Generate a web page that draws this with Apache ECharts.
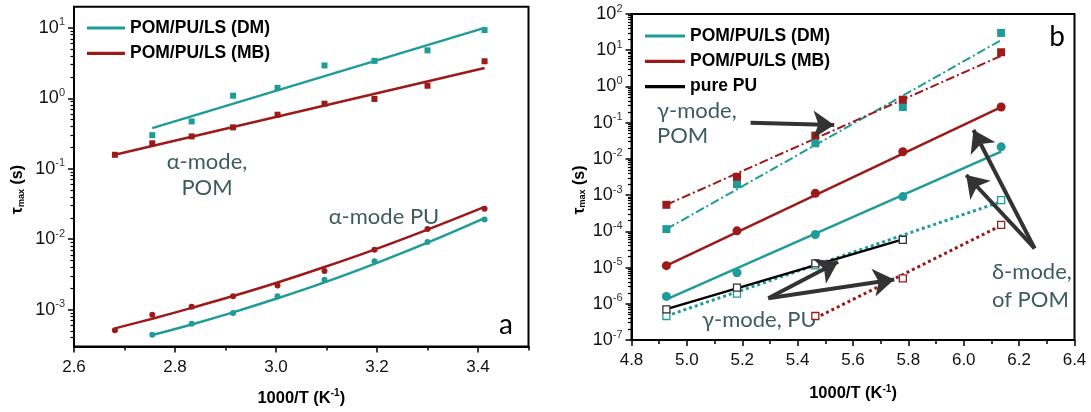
<!DOCTYPE html>
<html><head><meta charset="utf-8">
<script src="https://cdn.jsdelivr.net/npm/echarts@6/dist/echarts.min.js"></script>
<style>html,body{margin:0;padding:0;background:#fff}#c{width:1091px;height:412px}</style>
</head><body><div id="c"></div>
<script>
// ---------- Panel a data (x = 1000/T, y = tau_max in s) ----------
const xA = [2.681, 2.755, 2.833, 2.915, 3.003, 3.096, 3.195, 3.300, 3.413];
const aPOM_DM = [null, 0.30, 0.47, 1.09, 1.41, 2.93, 3.4, 4.8, 9.3];
const aPOM_MB = [0.158, 0.23, 0.288, 0.387, 0.586, 0.84, 0.98, 1.51, 3.36];
const aPOM_DM_fit = [null, 0.378, null, null, null, null, null, null, 10.0];
const aPOM_MB_fit = [0.158, null, null, null, null, null, null, null, 2.70];
const aPU_DM = [null, 4.4e-4, 6.3e-4, 9.0e-4, 1.55e-3, 2.65e-3, 4.85e-3, 9.1e-3, 1.9e-2];
const aPU_MB = [5.1e-4, 8.5e-4, 1.1e-3, 1.55e-3, 2.2e-3, 3.55e-3, 7.1e-3, 1.4e-2, 2.7e-2];
const aPU_DM_fit = [null, 4.37e-4, 6.17e-4, 9.16e-4, 1.45e-3, 2.44e-3, 4.48e-3, 8.95e-3, 2.0e-2];
const aPU_MB_fit = [5.43e-4, 7.45e-4, 1.06e-3, 1.56e-3, 2.43e-3, 4.03e-3, 7.13e-3, 1.37e-2, 2.88e-2];
const xTicksA = [2.6, 2.8, 3.0, 3.2, 3.4];
const xMinorA = [2.7, 2.9, 3.1, 3.3, 3.5];
const yRangeA = [3e-4, 20];

// ---------- Panel b data ----------
const xB = [4.926, 5.181, 5.464, 5.780, 6.135];
const gPOM_DM = [1.15e-4, 2.0e-3, 2.7e-2, 0.27, 30];
const gPOM_MB = [5.4e-4, 3.2e-3, 4.4e-2, 0.43, 8.8];
const gPOM_DM_fit = [1.15e-4, null, null, null, 19];
const gPOM_MB_fit = [5.4e-4, null, null, null, 7.0];
const dPOM_DM = [1.6e-6, 7.2e-6, 8.2e-5, 9.1e-4, 2.15e-2];
const dPOM_MB = [1.13e-5, 1.03e-4, 1.12e-3, 1.57e-2, 0.27];
const dPOM_DM_fit = [1.32e-6, null, null, null, 1.58e-2];
const dPOM_MB_fit = [1.13e-5, null, null, null, 0.27];
const gPU_DM = [4.6e-7, 1.9e-6, 1.15e-5, 6.0e-5, 7.3e-4];
const gPU_MB = [null, null, 4.6e-7, 5.0e-6, 1.5e-4];
const gPU_pure = [7.0e-7, 2.8e-6, 1.3e-5, 5.8e-5, null];
const gPU_DM_fit = [4.6e-7, null, null, null, 6.6e-4];
const gPU_MB_fit = [null, null, 4.0e-7, null, 1.45e-4];
const gPU_pure_fit = [7.1e-7, null, null, 6.0e-5, null];
const xTicksB = [4.8, 5.0, 5.2, 5.4, 5.6, 5.8, 6.0, 6.2, 6.4];
const xMinorB = [4.9, 5.1, 5.3, 5.5, 5.7, 5.9, 6.1, 6.3];
const yRangeB = [1e-7, 100];
// annotation arrows (data units): [tail, head]
const arrowsB = [
  [[5.230, 0.0998], [5.532, 0.0861]],
  [[6.256, 3.40e-5], [6.035, 0.0627]],
  [[6.256, 3.40e-5], [6.009, 3.59e-3]],
  [[5.294, 1.42e-6], [5.546, 1.45e-5]],
  [[5.294, 1.42e-6], [5.749, 4.68e-6]]
];

const TEAL = '#1f9b98', RED = '#9c1a1a', TXT = '#3d5c5c';
const SANS = 'Liberation Sans';
const L = Math.log10;

function pts(xs, ys) {
  const out = [];
  xs.forEach((x, i) => { if (ys[i] != null) out.push([x, L(ys[i])]); });
  return out;
}
function decades(r) {
  const a = [];
  for (let k = Math.ceil(L(r[0]) - 1e-9); k <= Math.floor(L(r[1]) + 1e-9); k++) a.push(k);
  return a;
}
function minors(r) {
  const a = [];
  for (let k = Math.floor(L(r[0])); k <= Math.ceil(L(r[1])); k++)
    for (let m = 2; m <= 9; m++) {
      const v = L(m) + k;
      if (v > L(r[0]) + 1e-6 && v < L(r[1]) - 1e-6) a.push(v);
    }
  return a;
}

const yRich = {
  b: {fontSize: 18, fontFamily: SANS, color: '#111', lineHeight: 22},
  s: {fontSize: 11, fontFamily: SANS, color: '#333', verticalAlign: 'top', lineHeight: 12}
};
function yAxesFor(g, r, nameGap) {
  return [{
    type: 'value', gridIndex: g, position: 'left', min: L(r[0]), max: L(r[1]),
    axisLine: {show: true, lineStyle: {color: '#000', width: 2}},
    axisTick: {show: true, inside: false, length: 6, customValues: decades(r), lineStyle: {color: '#000', width: 1.5}},
    axisLabel: {customValues: decades(r), margin: 9, formatter: v => '{b|10}{s|' + Math.round(v) + '}', rich: yRich},
    splitLine: {show: false},
    name: '{t|τ}{sub|max}{t| (s)}', nameLocation: 'middle', nameRotate: 90, nameGap: nameGap,
    nameTextStyle: {padding: [0, 26, 0, 0], rich: {
      t: {fontSize: 16, fontWeight: 'bold', fontFamily: SANS, color: '#000'},
      sub: {fontSize: 9, fontWeight: 'bold', fontFamily: SANS, color: '#000', verticalAlign: 'bottom', lineHeight: 8}
    }}
  }, {
    type: 'value', gridIndex: g, position: 'left', min: L(r[0]), max: L(r[1]),
    axisLine: {show: false},
    axisTick: {show: true, length: 3.5, customValues: minors(r), lineStyle: {color: '#000', width: 1.2}},
    axisLabel: {show: false}, splitLine: {show: false}
  }];
}
const xName = {
  name: '{t|1000/T (K}{s|-1}{t|)}', nameLocation: 'middle',
  nameTextStyle: {rich: {
    t: {fontSize: 16.5, fontWeight: 'bold', fontFamily: SANS, color: '#000', lineHeight: 19},
    s: {fontSize: 10, fontWeight: 'bold', fontFamily: SANS, color: '#000', verticalAlign: 'top', lineHeight: 10}
  }}
};
function xAxesFor(g, min, max, majors, mins, gap) {
  return [Object.assign({
    type: 'value', gridIndex: g, position: 'bottom', min: min, max: max,
    axisLine: {show: true, onZero: false, lineStyle: {color: '#000', width: 2}},
    axisTick: {show: true, length: 6, customValues: majors, lineStyle: {color: '#000', width: 1.5}},
    axisLabel: {customValues: majors, margin: 12, fontSize: 17, fontFamily: SANS, color: '#111', formatter: v => v.toFixed(1)},
    splitLine: {show: false}, nameGap: gap
  }, xName), {
    type: 'value', gridIndex: g, position: 'bottom', min: min, max: max,
    axisLine: {show: false, onZero: false},
    axisTick: {show: true, length: 4, customValues: mins, lineStyle: {color: '#000', width: 1.5}},
    axisLabel: {show: false}, splitLine: {show: false}
  }];
}

function fitLine(name, xs, ys, color, xi, yi, type, width, smooth) {
  return {type: 'line', name: name, xAxisIndex: xi, yAxisIndex: yi, data: pts(xs, ys),
    symbol: 'none', smooth: smooth || false, connectNulls: true, silent: true, z: 3,
    lineStyle: {color: color, width: width, type: type}, itemStyle: {color: color}};
}
function scat(name, xs, ys, color, xi, yi, symbol, size, extra) {
  return Object.assign({type: 'scatter', name: name, xAxisIndex: xi, yAxisIndex: yi, data: pts(xs, ys),
    symbol: symbol, symbolSize: size, silent: true, z: 4, itemStyle: {color: color, opacity: 1}}, extra || {});
}
const emptyStyle = c => ({itemStyle: {color: '#fff', borderColor: c, borderWidth: 1.3, opacity: 1}});

const series = [
  // panel a
  fitLine('POM/PU/LS (DM)', xA, aPOM_DM_fit, TEAL, 0, 0, 'solid', 2.5),
  fitLine('POM/PU/LS (MB)', xA, aPOM_MB_fit, RED, 0, 0, 'solid', 2.5),
  fitLine('a PU DM fit', xA, aPU_DM_fit, TEAL, 0, 0, 'solid', 2.5, 0.4),
  fitLine('a PU MB fit', xA, aPU_MB_fit, RED, 0, 0, 'solid', 2.5, 0.4),
  scat('a POM DM', xA, aPOM_DM, TEAL, 0, 0, 'rect', 6),
  scat('a POM MB', xA, aPOM_MB, RED, 0, 0, 'rect', 6),
  scat('a PU DM', xA, aPU_DM, TEAL, 0, 0, 'circle', 6),
  scat('a PU MB', xA, aPU_MB, RED, 0, 0, 'circle', 6),
  // panel b
  fitLine('b gPOM DM fit', xB, gPOM_DM_fit, TEAL, 2, 2, [9, 3, 2, 3], 2),
  fitLine('b gPOM MB fit', xB, gPOM_MB_fit, RED, 2, 2, [9, 3, 2, 3], 2),
  fitLine('POM/PU/LS (DM)', xB, dPOM_DM_fit, TEAL, 2, 2, 'solid', 2.5),
  fitLine('POM/PU/LS (MB)', xB, dPOM_MB_fit, RED, 2, 2, 'solid', 2.5),
  fitLine('b gPU DM fit', xB, gPU_DM_fit, TEAL, 2, 2, [3, 3], 3),
  fitLine('b gPU MB fit', xB, gPU_MB_fit, RED, 2, 2, [3, 3], 3),
  Object.assign(fitLine('pure PU', xB, gPU_pure_fit, '#000', 2, 2, 'solid', 2.5), {
    markLine: {silent: true, symbol: ['none', 'arrow'], symbolSize: 21, animation: false,
      label: {show: false}, lineStyle: {color: '#333', width: 4, type: 'solid'},
      emphasis: {disabled: true},
      data: arrowsB.map(a => [{coord: [a[0][0], L(a[0][1])]}, {coord: [a[1][0], L(a[1][1])]}])}
  }),
  scat('b gPOM DM', xB, gPOM_DM, TEAL, 2, 2, 'rect', 8),
  scat('b gPOM MB', xB, gPOM_MB, RED, 2, 2, 'rect', 8),
  scat('b dPOM DM', xB, dPOM_DM, TEAL, 2, 2, 'circle', 9),
  scat('b dPOM MB', xB, dPOM_MB, RED, 2, 2, 'circle', 9),
  scat('b gPU DM', xB, gPU_DM, TEAL, 2, 2, 'rect', 7, emptyStyle(TEAL)),
  scat('b gPU MB', xB, gPU_MB, RED, 2, 2, 'rect', 7, emptyStyle(RED)),
  scat('b gPU pure', xB, gPU_pure, '#000', 2, 2, 'rect', 7, emptyStyle('#333'))
];

const legText = {fontSize: 17.5, fontWeight: 'bold', fontFamily: SANS, color: '#000', lineHeight: 15};
const legCommon = {orient: 'vertical', icon: 'rect', itemHeight: 3.2, itemGap: 7.3, padding: 0,
  textStyle: legText, selectedMode: false};
const option = {
  animation: false,
  backgroundColor: '#fff',
  grid: [
    {left: 74, right: 562.5, top: 6.7, bottom: 65.5, show: true, borderColor: '#000', borderWidth: 2, containLabel: false},
    {left: 631.5, right: 16.5, top: 14, bottom: 72, show: true, borderColor: '#000', borderWidth: 2, containLabel: false}
  ],
  xAxis: [].concat(xAxesFor(0, 2.6, 3.5, xTicksA, xMinorA, 42), xAxesFor(1, 4.8, 6.4, xTicksB, xMinorB, 44)),
  yAxis: [].concat(yAxesFor(0, yRangeA, 48), yAxesFor(1, yRangeB, 44)),
  legend: [
    Object.assign({data: ['POM/PU/LS (DM)', 'POM/PU/LS (MB)'], left: 87, top: 19, itemWidth: 38}, legCommon),
    Object.assign({data: ['POM/PU/LS (DM)', 'POM/PU/LS (MB)', 'pure PU'], left: 645, top: 27, itemWidth: 40}, legCommon)
  ],
  graphic: [
    {type: 'text', x: 207, y: 162, style: {text: 'α-mode,', font: '22px Lato', fill: TXT, align: 'center', verticalAlign: 'middle'}},
    {type: 'text', x: 207, y: 188, style: {text: 'POM', font: '22px Lato', fill: TXT, align: 'center', verticalAlign: 'middle'}},
    {type: 'text', x: 384, y: 217, style: {text: 'α-mode PU', font: '22px Lato', fill: TXT, align: 'center', verticalAlign: 'middle'}},
    {type: 'text', x: 506, y: 325, style: {text: 'a', font: '28px Lato', fill: '#000', align: 'center', verticalAlign: 'middle'}},
    {type: 'text', x: 657, y: 111, style: {text: 'γ-mode,', font: '22px Lato', fill: TXT, align: 'left', verticalAlign: 'middle'}},
    {type: 'text', x: 657, y: 136, style: {text: 'POM', font: '22px Lato', fill: TXT, align: 'left', verticalAlign: 'middle'}},
    {type: 'text', x: 702, y: 320, style: {text: 'γ-mode, PU', font: '22px Lato', fill: TXT, align: 'left', verticalAlign: 'middle'}},
    {type: 'text', x: 992, y: 272, style: {text: 'δ-mode,', font: '22px Lato', fill: TXT, align: 'left', verticalAlign: 'middle'}},
    {type: 'text', x: 992, y: 300, style: {text: 'of POM', font: '22px Lato', fill: TXT, align: 'left', verticalAlign: 'middle'}},
    {type: 'text', x: 1057, y: 37, style: {text: 'b', font: '28px Lato', fill: '#000', align: 'center', verticalAlign: 'middle'}}
  ],
  series: series
};
const chart = echarts.init(document.getElementById('c'), null, {renderer: 'canvas'});
chart.setOption(option);
</script>
</body></html>
